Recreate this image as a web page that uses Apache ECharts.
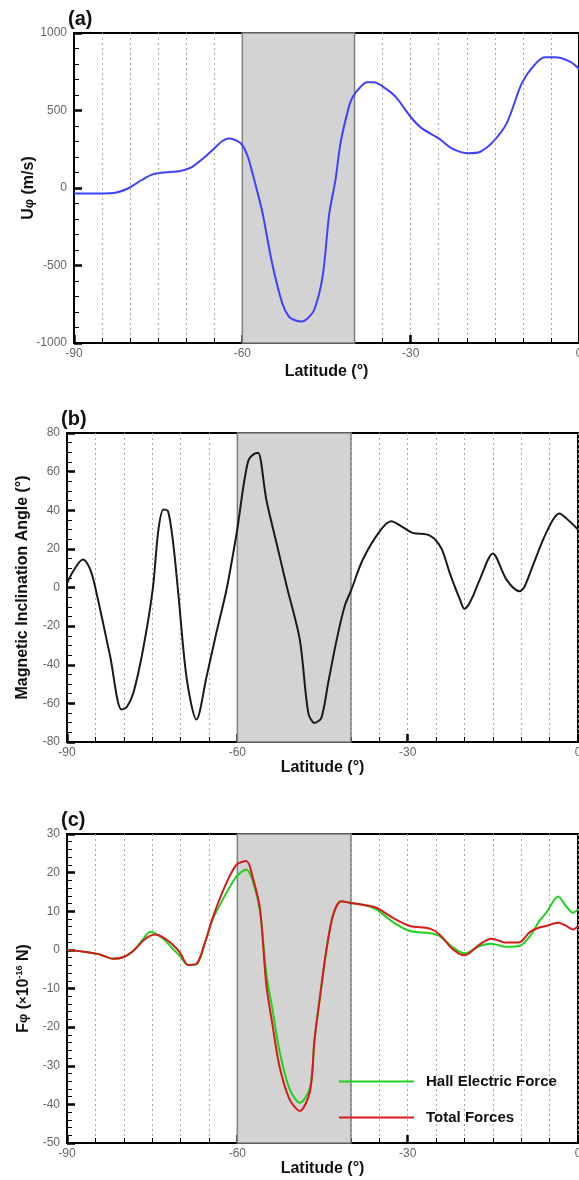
<!DOCTYPE html>
<html>
<head>
<meta charset="utf-8">
<script src="https://cdn.jsdelivr.net/npm/echarts@6/dist/echarts.min.js"></script>
<style>
html, body { margin: 0; padding: 0; background: #fff; overflow: hidden; }
#main { width: 579px; height: 1180px; }
</style>
</head>
<body>
<div id="main"></div>
<script>
// (a) zonal wind U_phi (m/s)
var latA = [-90, -86, -83, -80.5, -78, -76, -74, -71, -69, -67, -65, -63.5, -62.3, -61, -60, -59, -58.2, -57.5, -56.4, -54.7, -52.9, -51.7, -50.5, -49.4, -48.5, -47.2, -45.7, -44.5, -43.4, -42.5, -41, -40.3, -39, -37.8, -36.6, -34.5, -32.7, -29.8, -28, -25, -22.7, -19.7, -17.6, -15.3, -12.9, -10.2, -8.2, -6.1, -4.3, -1.6, 0];
var uPhi = [-35, -35, -32, -5, 50, 88, 100, 110, 135, 190, 255, 305, 320, 305, 277, 200, 97, 0, -161, -484, -742, -830, -855, -862, -845, -787, -572, -163, 52, 290, 525, 589, 650, 682, 682, 643, 589, 450, 385, 320, 256, 224, 234, 299, 417, 675, 783, 843, 843, 815, 768];

// (b) magnetic inclination angle
var latB = [-90, -89, -87.2, -86, -85.1, -82.4, -80.4, -79.5, -78.3, -76.6, -74.9, -73.9, -73, -72.2, -71.3, -70.4, -68.9, -67.2, -65.4, -63.7, -61.9, -60.1, -58.1, -56.6, -56.3, -54.9, -53.1, -51.3, -49, -47.5, -46.4, -45.2, -44, -42.5, -41.1, -39.9, -37.9, -34.9, -32.9, -31.1, -29.1, -26.1, -24.1, -22.6, -20.8, -20, -19.3, -18.5, -17.3, -15, -12.6, -10.3, -9.5, -8, -5.6, -3.3, -1.5, 0];
var incl = [2, 8, 14.5, 10, 1, -35.6, -63.2, -62, -54.5, -32, -1, 30, 40.4, 39.5, 23, -3, -47.6, -68.4, -45.9, -23.5, -1, 28.5, 65.4, 69.7, 69.7, 45.6, 23, 0.7, -27, -64.9, -70.1, -67.5, -49.4, -27, -9.7, -1, 14.5, 29.2, 34.3, 31.7, 28.3, 26.9, 20.5, 7.6, -6.2, -11, -9, -4.5, 4.1, 17.6, 4.1, -1.9, 0, 11, 28.3, 38.3, 34.3, 30];

// (c) forces (x1e-16 N)
var latC = [-90, -87, -84.2, -81.9, -80.1, -78.3, -76.5, -75.4, -74.5, -73, -71.5, -70.1, -68.7, -67.2, -65.7, -64.3, -61.9, -60.1, -58.4, -57.2, -56, -54.9, -53.8, -52.6, -50.8, -49, -47.2, -46.4, -45.5, -44.3, -43.1, -41.7, -40.2, -37.3, -35.5, -32.6, -29.6, -26.1, -24.4, -22, -20, -17.3, -15.3, -12.6, -10.3, -8.5, -6.8, -5.6, -3.5, -2.1, -0.9, 0];
var hallForce = [0, -0.5, -1.2, -2.3, -1.9, -0.3, 3, 4.6, 4.3, 2.8, 0.5, -1.6, -3.9, -3.8, 1.9, 8, 14.8, 19.1, 20.8, 17.4, 10, -6, -15.5, -26, -36, -39.6, -35.7, -23.2, -12.8, 0.1, 9.2, 12.6, 12.2, 11.5, 10.5, 7.2, 4.9, 4.3, 3.6, 0.6, -0.9, 1, 1.6, 0.8, 1, 3.5, 7.5, 9.6, 13.8, 11.3, 9.6, 10.5];
var totalForce = [0, -0.5, -1.2, -2.3, -1.9, -0.2, 2.5, 3.6, 4, 3.2, 1.5, -0.7, -3.9, -3.6, 1.9, 8.5, 17.4, 22.1, 23, 18.3, 10.5, -9, -19.5, -30, -38.7, -41.7, -36.6, -23.2, -12.8, 0.1, 9.2, 12.6, 12.2, 11.5, 10.9, 8.3, 6.2, 5.5, 4, 0.1, -1.4, 1.4, 2.9, 1.9, 2, 4.6, 5.8, 6.2, 7, 6.2, 5.3, 6.2];

var bandLat = [-60, -40];
var font = 'Liberation Sans, Arial, sans-serif';

function pairs(xs, ys) {
  return xs.map(function (x, i) { return [x, ys[i]]; });
}

function plain(v) {
  return String(v);
}

function makeX(gi, gap) {
  return {
    type: 'value', gridIndex: gi, min: -90, max: 0, interval: 30,
    name: 'Latitude (°)', nameLocation: 'middle', nameGap: gap,
    nameTextStyle: { fontFamily: font, fontWeight: 'bold', fontSize: 16, color: '#111' },
    axisLine: { onZero: false, lineStyle: { color: '#000', width: 2 } },
    axisTick: { inside: true, length: 8, lineStyle: { color: '#000', width: 2.5 } },
    minorTick: { show: true, splitNumber: 6, length: 5, lineStyle: { color: '#000', width: 1 } },
    axisLabel: { fontFamily: font, fontSize: 12, color: '#666', margin: 5, formatter: plain },
    splitLine: { show: true, lineStyle: { type: [2, 3], color: '#aaa' } },
    minorSplitLine: { show: true, lineStyle: { type: [2, 3], color: '#aaa' } }
  };
}

function makeY(gi, min, max, step, minor, name, gap) {
  return {
    type: 'value', gridIndex: gi, min: min, max: max, interval: step,
    name: name, nameLocation: 'middle', nameGap: gap, nameMoveOverlap: false,
    nameTextStyle: {
      fontFamily: font, fontWeight: 'bold', fontSize: 16, color: '#111',
      rich: {
        b: { fontFamily: font, fontWeight: 'bold', fontSize: 16, color: '#111' },
        s: { fontFamily: font, fontSize: 13, color: '#111' },
        sup: { fontFamily: font, fontWeight: 'bold', fontSize: 9, color: '#111', verticalAlign: 'top', padding: [0, 0, 8, 0] }
      }
    },
    axisLine: { show: true, onZero: false, lineStyle: { color: '#000', width: 2 } },
    axisTick: { show: true, inside: true, length: 8, lineStyle: { color: '#000', width: 2.5 } },
    minorTick: { show: true, splitNumber: minor, length: 5, lineStyle: { color: '#000', width: 1 } },
    axisLabel: { fontFamily: font, fontSize: 12, color: '#666', margin: 7, formatter: plain },
    splitLine: { show: false }
  };
}

var band = {
  silent: true,
  itemStyle: { color: '#d3d3d3', borderColor: '#808080', borderWidth: 1.5 },
  data: [[{ xAxis: bandLat[0] }, { xAxis: bandLat[1] }]]
};

var gridStyle = { show: true, borderColor: '#000', borderWidth: 2, backgroundColor: 'transparent', outerBoundsMode: 'none', containLabel: false };

var option = {
  animation: false,
  title: [
    { text: '(a)', left: 63, top: 4, textStyle: { fontFamily: font, fontWeight: 'bold', fontSize: 20, color: '#111' } },
    { text: '(b)', left: 56, top: 404, textStyle: { fontFamily: font, fontWeight: 'bold', fontSize: 20, color: '#111' } },
    { text: '(c)', left: 56, top: 805, textStyle: { fontFamily: font, fontWeight: 'bold', fontSize: 20, color: '#111' } }
  ],
  legend: {
    data: ['Hall Electric Force', 'Total Forces'],
    orient: 'vertical', left: 334, top: 1069,
    icon: 'rect', itemWidth: 75, itemHeight: 2, itemGap: 21,
    textStyle: { fontFamily: font, fontWeight: 'bold', fontSize: 15, color: '#111', padding: [0, 0, 0, 7] }
  },
  grid: [
    Object.assign({ left: 74, top: 33, width: 505, height: 310 }, gridStyle),
    Object.assign({ left: 67, top: 433, width: 511, height: 309 }, gridStyle),
    Object.assign({ left: 67, top: 834, width: 511, height: 309 }, gridStyle)
  ],
  xAxis: [makeX(0, 21), makeX(1, 17), makeX(2, 14)],
  yAxis: [
    makeY(0, -1000, 1000, 500, 5, '{b|U}{s|φ}{b| (m/s)}', 37),
    makeY(1, -80, 80, 20, 4, 'Magnetic Inclination Angle (°)', 36),
    makeY(2, -50, 30, 10, 5, '{b|F}{s|φ}{b| (}{s|×}{b|10}{sup|-16}{b| N)}', 35)
  ],
  series: [
    {
      type: 'line', xAxisIndex: 0, yAxisIndex: 0, data: pairs(latA, uPhi),
      symbol: 'none', smooth: 0.3, lineStyle: { color: '#4040ff', width: 2 },
      markArea: band
    },
    {
      type: 'line', xAxisIndex: 1, yAxisIndex: 1, data: pairs(latB, incl),
      symbol: 'none', smooth: 0.3, lineStyle: { color: '#1a1a1a', width: 2 },
      markArea: band
    },
    {
      name: 'Hall Electric Force', type: 'line', xAxisIndex: 2, yAxisIndex: 2, data: pairs(latC, hallForce),
      symbol: 'none', smooth: 0.3, color: '#1ed21e', lineStyle: { color: '#1ed21e', width: 2 },
      markArea: band
    },
    {
      name: 'Total Forces', type: 'line', xAxisIndex: 2, yAxisIndex: 2, data: pairs(latC, totalForce),
      symbol: 'none', smooth: 0.3, color: '#d91a1a', lineStyle: { color: '#d91a1a', width: 2 }
    }
  ]
};

var chart = echarts.init(document.getElementById('main'));
chart.setOption(option);
</script>
</body>
</html>
